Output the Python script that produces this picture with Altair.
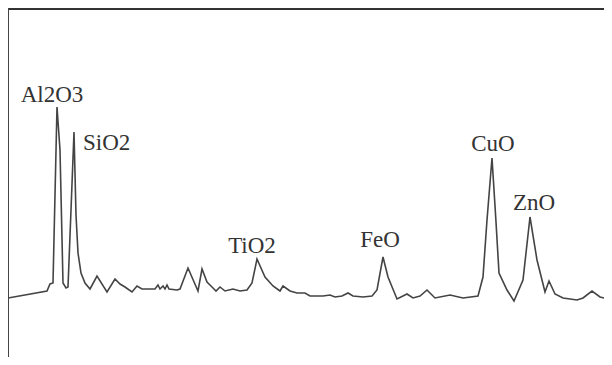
import altair as alt
import pandas as pd

# Spectrum trace (channel position, intensity)
channel = [0, 39, 42, 45, 49, 52, 55, 58, 60, 63, 66, 68, 70, 73, 77, 82, 89, 99, 107, 112,
           117, 124, 129, 134, 142, 147, 150, 152, 155, 157, 159, 161, 169, 172, 180, 190, 194,
           199, 205, 208, 212, 217, 225, 232, 239, 244, 249, 257, 265, 272, 275, 282, 289, 297,
           302, 315, 322, 327, 334, 340, 345, 355, 364, 369, 375, 380, 389, 399, 405, 412, 419,
           427, 442, 455, 470, 475, 479, 484, 488, 491, 499, 506, 515, 522, 529, 537, 541, 547,
           555, 569, 575, 584, 592, 604]
intensity = [67, 74, 81, 82, 258, 215, 82, 77, 78, 155, 233, 150, 112, 92, 82, 76, 89, 73, 86, 81,
             78, 73, 79, 76, 76, 76, 80, 76, 79, 76, 80, 76, 75, 76, 97, 74, 96, 83, 77, 74,
             78, 74, 76, 74, 75, 82, 106, 88, 79, 74, 79, 74, 72, 72, 69, 69, 70, 68, 69, 72,
             69, 68, 69, 75, 108, 88, 66, 71, 67, 69, 75, 67, 70, 67, 69, 88, 145, 207, 143, 92,
             75, 64, 85, 148, 105, 73, 84, 71, 67, 65, 67, 74, 68, 65]

# Peak labels anchored on their peaks
labels = ["Al2O3", "SiO2", "TiO2", "FeO", "CuO", "ZnO"]
label_channel = [49, 66, 249, 375, 484, 522]
label_intensity = [258, 233, 106, 108, 207, 148]

spec = pd.DataFrame({"channel": channel, "intensity": intensity})
peaks = pd.DataFrame({"label": labels, "channel": label_channel, "intensity": label_intensity})

W, H = 596, 349
xs = alt.Scale(domain=[0, 596], nice=False, zero=False)
ys = alt.Scale(domain=[8, 357], nice=False, zero=False)

line = alt.Chart(spec).mark_line(color="#444444", strokeWidth=1.6, strokeJoin="miter").encode(
    x=alt.X("channel:Q", scale=xs, axis=None),
    y=alt.Y("intensity:Q", scale=ys, axis=None),
)

offsets = {
    "Al2O3": ("center", -5, -5),
    "SiO2": ("left", 9, 18),
    "TiO2": ("center", -5, -6),
    "FeO": ("center", -3, -10),
    "CuO": ("center", 1, -7),
    "ZnO": ("center", 4, -7),
}

texts = []
for name in labels:
    al, dx, dy = offsets[name]
    texts.append(
        alt.Chart(peaks).transform_filter(alt.datum.label == name)
        .mark_text(font="Liberation Serif, Times New Roman, serif", fontSize=23, color="#333333",
                   align=al, baseline="alphabetic", dx=dx, dy=dy)
        .encode(x=alt.X("channel:Q", scale=xs, axis=None),
                y=alt.Y("intensity:Q", scale=ys, axis=None),
                text="label:N")
    )

frame_top = alt.Chart(spec).mark_rule(color="#333333", strokeWidth=1.6).encode(
    x=alt.value(0), x2=alt.value(W), y=alt.value(0.8))
frame_left = alt.Chart(spec).mark_rule(color="#444444", strokeWidth=1.6).encode(
    x=alt.value(0.2), y=alt.value(0), y2=alt.value(H))

chart = alt.layer(frame_top, frame_left, line, *texts).properties(
    width=W, height=H, padding=0, autosize=alt.AutoSizeParams(type="none"),
    background="white",
).configure_view(stroke=None)

chart.save("out.html", embed_options={"renderer": "svg", "actions": False})
